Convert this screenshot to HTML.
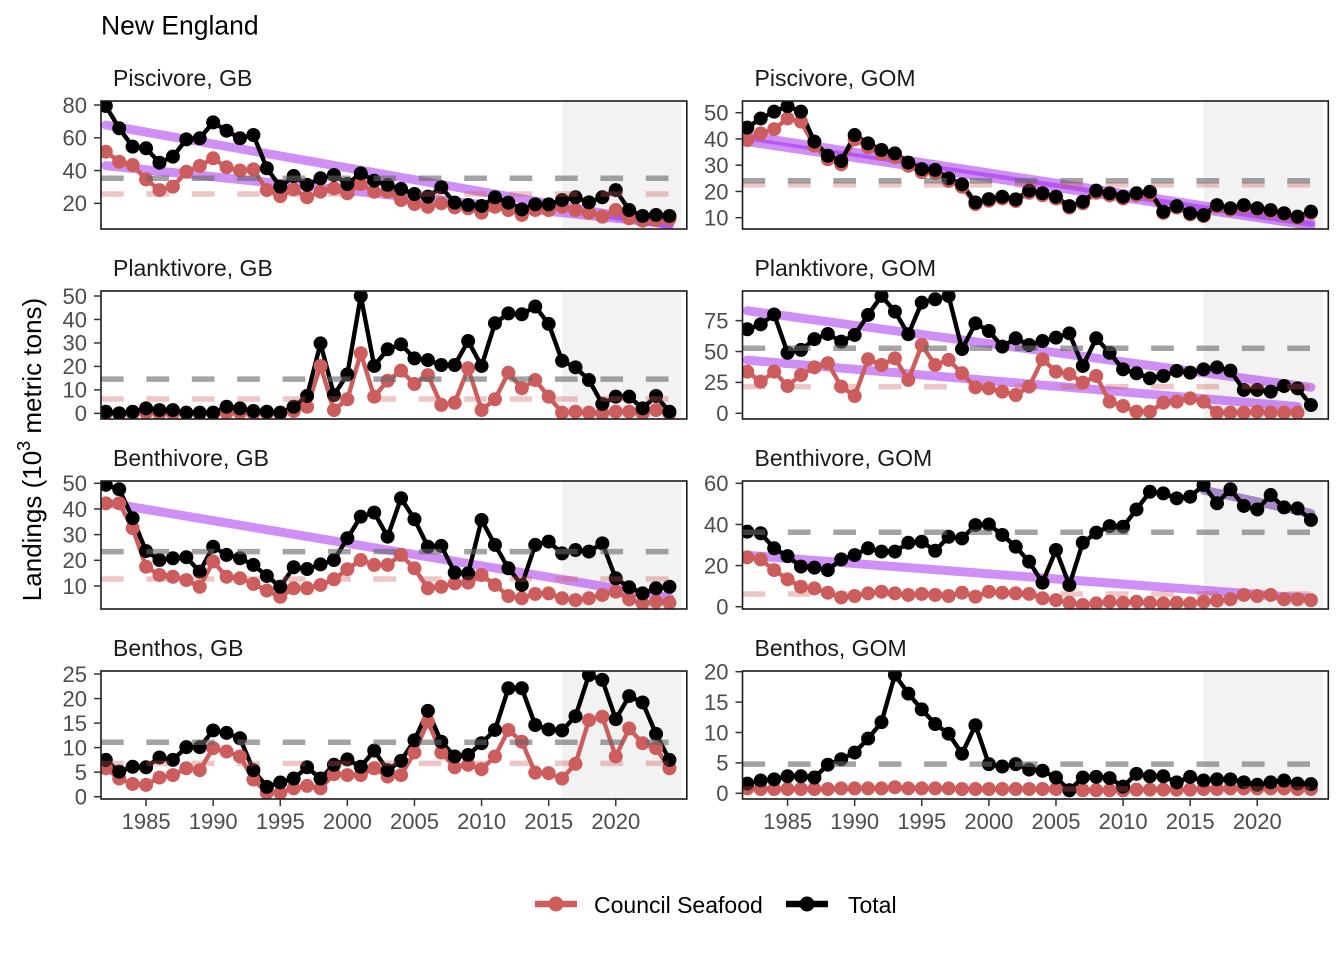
<!DOCTYPE html>
<html><head><meta charset="utf-8">
<style>
html,body{margin:0;padding:0;background:#fff;}
svg{display:block;}
text{font-family:"Liberation Sans",Arial,sans-serif;}
.yt{font-size:22px;fill:#4d4d4d;text-anchor:end;}
.xt{font-size:22px;fill:#4d4d4d;text-anchor:middle;}
.st{font-size:23px;fill:#1a1a1a;}
</style></head>
<body>
<svg id="s" width="1344" height="960" viewBox="0 0 1344 960" xmlns="http://www.w3.org/2000/svg">
<rect width="1344" height="960" fill="#fff"/>
<g id="panels"></g>

<text x="101" y="34.3" font-size="26.5" fill="#000">New England</text>

<text class="st" x="113" y="86">Piscivore, GB</text>
<text class="st" x="754.5" y="86">Piscivore, GOM</text>
<text class="st" x="113" y="276">Planktivore, GB</text>
<text class="st" x="754.5" y="276">Planktivore, GOM</text>
<text class="st" x="113" y="466">Benthivore, GB</text>
<text class="st" x="754.5" y="466">Benthivore, GOM</text>
<text class="st" x="113" y="656">Benthos, GB</text>
<text class="st" x="754.5" y="656">Benthos, GOM</text>

<!-- P1 -->
<text class="yt" x="87" y="112.8">80</text>
<text class="yt" x="87" y="145.6">60</text>
<text class="yt" x="87" y="178.4">40</text>
<text class="yt" x="87" y="211.1">20</text>
<!-- P2 -->
<text class="yt" x="728.5" y="120.5">50</text>
<text class="yt" x="728.5" y="146.8">40</text>
<text class="yt" x="728.5" y="173">30</text>
<text class="yt" x="728.5" y="199.3">20</text>
<text class="yt" x="728.5" y="225.5">10</text>
<!-- P3 -->
<text class="yt" x="87" y="303.8">50</text>
<text class="yt" x="87" y="327.3">40</text>
<text class="yt" x="87" y="350.7">30</text>
<text class="yt" x="87" y="374.2">20</text>
<text class="yt" x="87" y="397.7">10</text>
<text class="yt" x="87" y="421.2">0</text>
<!-- P4 -->
<text class="yt" x="728.5" y="328.4">75</text>
<text class="yt" x="728.5" y="359.3">50</text>
<text class="yt" x="728.5" y="390.2">25</text>
<text class="yt" x="728.5" y="421.1">0</text>
<!-- P5 -->
<text class="yt" x="87" y="491.1">50</text>
<text class="yt" x="87" y="516.8">40</text>
<text class="yt" x="87" y="542.4">30</text>
<text class="yt" x="87" y="568.1">20</text>
<text class="yt" x="87" y="593.8">10</text>
<!-- P6 -->
<text class="yt" x="728.5" y="491.1">60</text>
<text class="yt" x="728.5" y="532.3">40</text>
<text class="yt" x="728.5" y="573.4">20</text>
<text class="yt" x="728.5" y="614.5">0</text>
<!-- P7 -->
<text class="yt" x="87" y="681.8">25</text>
<text class="yt" x="87" y="706.4">20</text>
<text class="yt" x="87" y="730.9">15</text>
<text class="yt" x="87" y="755.4">10</text>
<text class="yt" x="87" y="780">5</text>
<text class="yt" x="87" y="804.5">0</text>
<!-- P8 -->
<text class="yt" x="728.5" y="679.5">20</text>
<text class="yt" x="728.5" y="709.9">15</text>
<text class="yt" x="728.5" y="740.3">10</text>
<text class="yt" x="728.5" y="770.7">5</text>
<text class="yt" x="728.5" y="801.1">0</text>

<!-- x tick labels -->
<text class="xt" x="146.1" y="829">1985</text>
<text class="xt" x="213.2" y="829">1990</text>
<text class="xt" x="280.3" y="829">1995</text>
<text class="xt" x="347.4" y="829">2000</text>
<text class="xt" x="414.5" y="829">2005</text>
<text class="xt" x="481.6" y="829">2010</text>
<text class="xt" x="548.7" y="829">2015</text>
<text class="xt" x="615.8" y="829">2020</text>
<text class="xt" x="787.6" y="829">1985</text>
<text class="xt" x="854.7" y="829">1990</text>
<text class="xt" x="921.8" y="829">1995</text>
<text class="xt" x="988.9" y="829">2000</text>
<text class="xt" x="1056" y="829">2005</text>
<text class="xt" x="1123.1" y="829">2010</text>
<text class="xt" x="1190.2" y="829">2015</text>
<text class="xt" x="1257.3" y="829">2020</text>

<!-- y axis title -->
<text transform="translate(41,449.5) rotate(-90)" text-anchor="middle" font-size="26" fill="#000">Landings (10<tspan font-size="18" dy="-11">3</tspan><tspan dy="11"> metric tons)</tspan></text>

<!-- legend -->
<line x1="535" y1="904" x2="577" y2="904" stroke="#cd5c5c" stroke-width="6.5"/>
<circle cx="556" cy="904" r="7.5" fill="#cd5c5c"/>
<text x="594" y="913" font-size="23" fill="#000">Council Seafood</text>
<line x1="786" y1="904" x2="828" y2="904" stroke="#000" stroke-width="6.5"/>
<circle cx="807" cy="904" r="7.5" fill="#000"/>
<text x="848" y="913" font-size="23" fill="#000">Total</text>
</svg>
<script>
(function(){
const NS="http://www.w3.org/2000/svg";
const root=document.getElementById('panels');
function el(tag,attrs,parent){const e=document.createElementNS(NS,tag);for(const k in attrs)e.setAttribute(k,attrs[k]);(parent||root).appendChild(e);return e;}
const DX=13.42;
const ROWS=[101,291,481,671], H=128;
const COLS=[{xl:101,xr:686.8,x0:105.8},{xl:742.5,xr:1328.3,x0:747.3}];
const PUR='#a020f0';
const R=7, LW=4.4;
const t2=[44.3,47.8,50.4,52.5,50.4,39,33.6,31.6,41.5,38.3,35.8,34.5,31,28.5,28.2,25,22.7,15.8,17.1,18,17,20.3,19.3,18,14.4,16.1,20.3,19.3,18,19.3,19.9,12.3,14.4,11.7,11,14.8,13.6,14.8,13.6,12.9,11.7,10.4,12.3];
const c2=[39.6,42.1,43.7,47.8,46.6].concat(t2.slice(5).map(v=>v*0.96));
const P=[
{c:0,r:0,y0:236.12,k:1.639,ticks:[20,40,60,80],
 tot:[79.4,65.8,54.6,53.6,44.8,48.5,59,59.7,69.4,64.3,59.7,61.7,41.4,30.2,36.7,31.3,35.3,37.3,31.8,38.3,33.8,31.2,28.8,25.7,24.1,29.8,20.4,19,18.4,23.7,20.4,16.3,19.4,19.4,22,23.7,20.6,23.7,28.1,15.9,12.3,12.9,12.3],
 cou:[51.5,45.4,43.4,34.6,28.1,30.2,39.3,42.8,47.5,42,40,40.7,28.1,24.4,28.5,23.7,27.1,29.2,26.1,31.8,27.1,27.1,22,19.6,17.9,20,17.5,17,14.3,17.9,15.9,12.9,15.9,15.9,17.9,15.9,14.3,11.9,15.9,10.9,9.4,9.8,10.5],
 tr:[[1982,67.8,2024,6.8,PUR,.5],[1982,43,2024,7.5,PUR,.5]],gm:35.3,rm:25.7},
{c:1,r:0,y0:243.95,k:2.625,ticks:[10,20,30,40,50],
 tot:t2,cou:c2,
 tr:[[1982,41.2,2024,8.2,PUR,.5],[1982,39,2024,7,PUR,.5]],gm:24.1,rm:22.5},
{c:0,r:1,y0:413.35,k:2.347,ticks:[0,10,20,30,40,50],
 tot:[0.7,0,0.7,2.1,1.4,1.4,0.3,0.3,0.3,2.8,2.1,1,0.7,0.3,2.8,7.4,29.8,7.8,16.6,50,20.2,27.3,29.4,23.4,22.7,20.6,20.6,30.8,20.2,38.4,42.6,42.2,45.5,38.1,22.4,19.6,14.2,4,7.1,7.1,2.1,7.4,0.7],
 cou:[0,0,0,0.3,0,0,0,0,0,0.3,0.3,0,0,0,1.0,2.8,20.2,1.4,6,25.6,7.1,13.9,18.2,12.5,16.3,3.6,4.5,19.2,1.4,6,17.3,10.7,14.2,7.1,0.3,0.7,0.3,0,0.7,0.7,0,1.4,0],
 tr:[],gm:14.6,rm:6.1},
{c:1,r:1,y0:413.3,k:1.2356,ticks:[0,25,50,75],
 tot:[68,72,80,49,51.3,60,64.2,58,63.4,79.6,95,82.3,64,89.6,92.3,95,52,72.8,66.6,54,60.7,55.3,58.5,61.2,64.7,38.3,60.7,49,35.6,32.4,28.3,30.2,34.3,32.9,35.6,37.2,34.5,18.9,18.9,17.5,22.1,20.2,6.7],
 cou:[33.7,25.6,33.7,22.1,31,37.2,40.5,21.6,14,43.7,39.1,44.5,27,55.3,39.1,43.2,32.4,21,20.2,17.5,14.8,21.6,43.7,33.7,31.8,24.8,30.2,9.4,5.9,1.3,1.3,8.6,9.4,12.1,9.4,0.5,0.5,0.5,1.3,0.5,0.5,0.5],
 tr:[[1982,83,2024,21,PUR,.5],[1982,43,2023,5.4,PUR,.5]],gm:52.6,rm:21.6},
{c:0,r:2,y0:611.65,k:2.567,ticks:[10,20,30,40,50],
 tot:[49.4,47.7,36.4,23.6,20.1,20.8,21.2,15.6,25.3,22.1,20.8,18.2,13.9,9.7,17.3,16.6,18.4,20.1,28.6,37,38.6,29.2,44.2,36,25.3,25.6,15.2,14.9,35.7,26,16.9,10.4,26,27.3,22.7,24,23.4,26.6,13,9.5,7.1,9.1,9.7],
 cou:[42.2,42.2,32.5,17.5,14.3,13.6,12.3,9.7,19.5,13.6,13,10.8,8.2,5.8,9.1,9.1,10.4,12.6,16.5,20.1,18.2,18.2,22.1,16.9,9.1,9.7,11,11.3,14.3,10.4,6.1,5.2,6.9,7.1,5.2,4.5,5.2,6.5,7.8,4.8,3.2,3.9,3.5],
 tr:[[1982,42.5,2024,5.5,PUR,.5]],gm:23.4,rm:12.7},
{c:1,r:2,y0:606.7,k:2.056,ticks:[0,20,40,60],
 tot:[36.5,35.7,28.4,24.6,19.5,19,17.8,23,25.1,28.4,26.8,26.8,31.1,31.6,27.2,34,33.2,39.7,40,34.9,29.2,21.9,11.7,27.6,10.5,31.1,36,39.2,38.9,47.3,55.9,55.1,52.7,53.5,59.2,50.3,57.1,49,47.3,54.3,48.3,47.8,42.2],
 cou:[24,23,17.8,13.3,9.7,8.9,6.8,4.5,5.2,6.5,7.3,6.5,5.7,6.2,5.7,5.2,6.8,4.9,7.3,6.8,6.5,6.2,4.1,3.2,1.9,0.8,1.6,2.4,1.9,2.4,1.9,1.6,1.9,1.6,2.4,2.9,3.6,5.7,5.2,5.7,3.6,3.6,3.2],
 tr:[[1982,25,2024,4,PUR,.5],[2016,56.7,2024,45.4,'#5e209e',.5]],gm:36.2,rm:6.2},
{c:0,r:3,y0:796.7,k:4.907,ticks:[0,5,10,15,20,25],
 tot:[7.5,5.1,6.1,6,8,7.5,10.1,10.1,13.5,13,11.9,5.4,2,2.9,3.7,6,3.7,6.5,7.6,6.1,9.4,5.4,7.3,11.5,17.5,11.2,8.2,8.5,10.9,13.6,22.1,22.1,14.6,13.7,13.5,16.4,24.8,23.8,15.8,20.5,19.2,12.8,7.5],
 cou:[5.8,3.7,2.6,2.4,3.9,4.4,5.8,5.4,9.9,9.2,8.2,3.5,0.8,0.8,1.7,2.2,1.7,4.6,4.4,4.4,5.8,4.1,4.4,9,15.3,9,6,6.5,5.6,8.2,13.6,11.2,4.9,4.8,3.7,6.7,15.6,16.3,8.2,13.9,10.9,9.9,5.8],
 tr:[],gm:11.1,rm:6.8},
{c:1,r:3,y0:793.3,k:6.08,ticks:[0,5,10,15,20],
 tot:[1.6,2.1,2.3,2.8,2.8,2.6,4.7,5.6,6.7,9,11.7,19.5,16.4,13.8,11.4,9.8,6.5,11.2,4.8,4.4,4.8,3.9,3.7,2.6,0.5,2.6,2.7,2.5,1.1,3.2,2.8,2.8,1.8,2.7,2.1,2.3,2.3,1.8,1.4,1.8,2.1,1.6,1.5],
 cou:[0.8,0.7,0.7,0.7,0.7,0.7,0.7,0.8,0.8,0.8,0.8,1.0,0.8,0.8,0.8,0.8,0.7,0.7,0.7,0.7,0.7,0.7,0.7,0.7,0.5,0.5,0.5,0.5,0.5,0.6,0.6,0.6,0.6,0.6,0.7,0.7,0.8,0.8,0.8,0.8,0.8,0.7,0.7],
 tr:[],gm:4.8,rm:0.7}
];
const defs=el('defs',{});
P.forEach((p,i)=>{
  const C=COLS[p.c], top=ROWS[p.r], bot=top+H;
  const X=yr=>C.x0+(yr-1982)*DX;
  const Y=v=>p.y0-p.k*v;
  const cp=el('clipPath',{id:'cp'+i},defs);
  el('rect',{x:C.xl,y:top,width:C.xr-C.xl,height:H},cp);
  const g=el('g',{'clip-path':'url(#cp'+i+')'});
  el('rect',{x:X(2016),y:top,width:(C.xr-5.3)-X(2016),height:H,fill:'#f2f2f2'},g);
  p.tr.forEach(t=>{
    el('line',{x1:X(t[0]),y1:Y(t[1]),x2:X(t[2]),y2:Y(t[3]),stroke:t[4],'stroke-opacity':t[5],'stroke-width':9,'stroke-linecap':'round'},g);
  });
  const pts=a=>a.map((v,j)=>X(1982+j).toFixed(2)+','+Y(v).toFixed(2)).join(' ');
  el('polyline',{points:pts(p.cou),fill:'none',stroke:'#cd5c5c','stroke-width':LW,'stroke-linejoin':'round'},g);
  el('polyline',{points:pts(p.tot),fill:'none',stroke:'#000','stroke-width':LW,'stroke-linejoin':'round'},g);
  p.cou.forEach((v,j)=>el('circle',{cx:X(1982+j),cy:Y(v),r:R,fill:'#cd5c5c'},g));
  p.tot.forEach((v,j)=>el('circle',{cx:X(1982+j),cy:Y(v),r:R,fill:'#000'},g));
  el('line',{x1:C.xl,y1:Y(p.rm),x2:C.xr,y2:Y(p.rm),stroke:'#cd5c5c','stroke-opacity':.35,'stroke-width':5.5,'stroke-dasharray':'22.7 22.7'},g);
  el('line',{x1:C.xl,y1:Y(p.gm),x2:C.xr,y2:Y(p.gm),stroke:'#666','stroke-opacity':.6,'stroke-width':5.5,'stroke-dasharray':'22.7 22.7'},g);
  el('rect',{x:C.xl,y:top,width:C.xr-C.xl,height:H,fill:'none',stroke:'#1a1a1a','stroke-width':1.6});
  p.ticks.forEach(v=>el('line',{x1:C.xl-7,y1:Y(v),x2:C.xl,y2:Y(v),stroke:'#333','stroke-width':1.5}));
  if(p.r===3){[1985,1990,1995,2000,2005,2010,2015,2020].forEach(yr=>el('line',{x1:X(yr),y1:bot,x2:X(yr),y2:bot+7,stroke:'#333','stroke-width':1.5}));}
});
})();
</script>
</body></html>
